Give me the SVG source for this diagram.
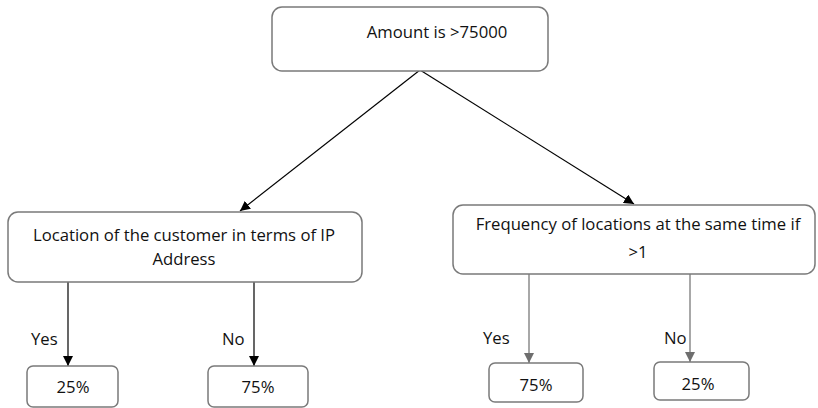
<svg xmlns="http://www.w3.org/2000/svg" width="818" height="408" viewBox="0 0 818 408">
<defs>
<style>
.box{fill:#fff;stroke:#7a7a7a;stroke-width:1.5}
.t{font-family:"Open Sans","Noto Sans",sans-serif;font-size:16.7px;fill:#111}
.c{text-anchor:middle}
.lk{stroke:#000;stroke-width:1.2;fill:none}
.lg{stroke:#6e6e6e;stroke-width:1.2;fill:none}
</style>
<marker id="ak" viewBox="0 0 10 10" refX="10" refY="5" markerWidth="10" markerHeight="10" markerUnits="userSpaceOnUse" orient="auto"><path d="M0,0 L10,5 L0,10 z" fill="#000"/></marker>
<marker id="ag" viewBox="0 0 10 10" refX="10" refY="5" markerWidth="10" markerHeight="10" markerUnits="userSpaceOnUse" orient="auto"><path d="M0,0 L10,5 L0,10 z" fill="#6e6e6e"/></marker>
</defs>
<rect width="818" height="408" fill="#fff"/>
<g id="connectors">
<line class="lk" x1="420" y1="70" x2="240" y2="211" marker-end="url(#ak)"/>
<line class="lk" x1="420" y1="70" x2="634" y2="204" marker-end="url(#ak)"/>
<line class="lk" x1="68" y1="282" x2="68" y2="366" marker-end="url(#ak)"/>
<line class="lk" x1="254" y1="282" x2="254" y2="366" marker-end="url(#ak)"/>
<line class="lg" x1="529" y1="274" x2="529" y2="363" marker-end="url(#ag)"/>
<line class="lg" x1="690" y1="274" x2="690" y2="362" marker-end="url(#ag)"/>
<text class="t" x="31" y="345">Yes</text>
<text class="t" x="222" y="345">No</text>
<text class="t" x="483" y="344">Yes</text>
<text class="t" x="664" y="344">No</text>
</g>
<g id="n-amount">
<rect class="box" x="272" y="7" width="276" height="64" rx="10"/>
<text class="t" x="437" y="38" text-anchor="middle">Amount is &gt;75000</text>
</g>
<g id="n-location">
<rect class="box" x="8" y="212" width="354" height="70" rx="10"/>
<text class="t c" x="184" y="241">Location of the customer in terms of IP</text>
<text class="t c" x="184" y="265">Address</text>
</g>
<g id="n-frequency">
<rect class="box" x="453" y="205" width="362" height="69" rx="10"/>
<text class="t c" x="638" y="230">Frequency of locations at the same time if</text>
<text class="t c" x="638" y="258">&gt;1</text>
</g>
<g id="n-l25">
<rect class="box" x="27" y="366" width="91" height="41" rx="6"/>
<text class="t c" x="73" y="393">25%</text>
</g>
<g id="n-l75">
<rect class="box" x="208" y="366" width="100" height="41" rx="6"/>
<text class="t c" x="258" y="393">75%</text>
</g>
<g id="n-r75">
<rect class="box" x="489" y="363" width="94" height="39" rx="6"/>
<text class="t c" x="536" y="391">75%</text>
</g>
<g id="n-r25">
<rect class="box" x="654" y="362" width="95" height="38" rx="6"/>
<text class="t c" x="698" y="390">25%</text>
</g>
</svg>
